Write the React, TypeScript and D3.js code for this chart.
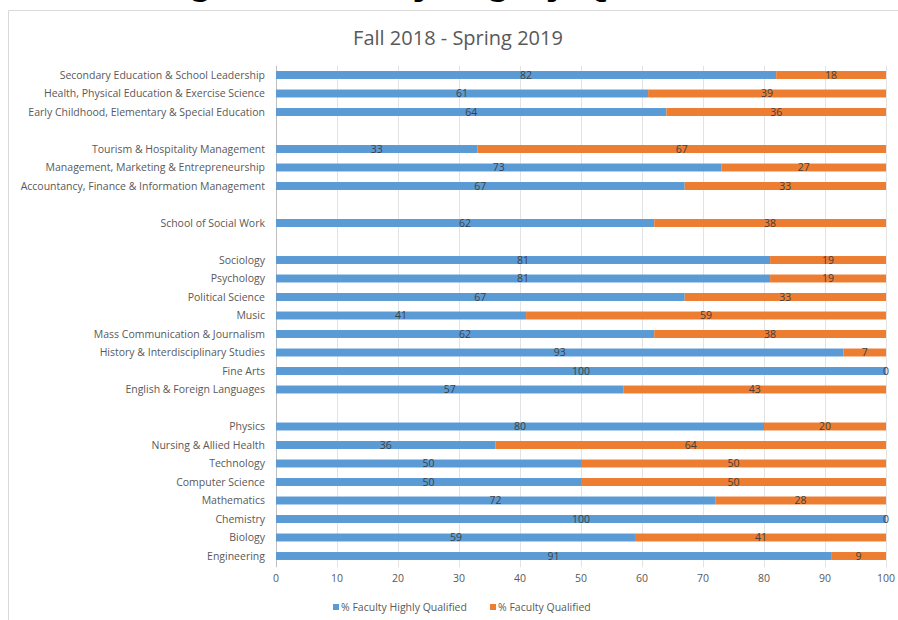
import { useEffect, useRef } from 'react';
import * as d3 from 'd3';

// rows top to bottom, '' = empty spacer row between groups
const categories = [
  'Secondary Education & School Leadership',
  'Health, Physical Education & Exercise Science',
  'Early Childhood, Elementary & Special Education',
  '',
  'Tourism & Hospitality Management',
  'Management, Marketing & Entrepreneurship',
  'Accountancy, Finance & Information Management',
  '',
  'School of Social Work',
  '',
  'Sociology',
  'Psychology',
  'Political Science',
  'Music',
  'Mass Communication & Journalism',
  'History & Interdisciplinary Studies',
  'Fine Arts',
  'English & Foreign Languages',
  '',
  'Physics',
  'Nursing & Allied Health',
  'Technology',
  'Computer Science',
  'Mathematics',
  'Chemistry',
  'Biology',
  'Engineering',
];

const highlyQualified = [82, 61, 64, null, 33, 73, 67, null, 62, null, 81, 81, 67, 41, 62, 93, 100, 57, null, 80, 36, 50, 50, 72, 100, 59, 91];
const qualified = [18, 39, 36, null, 67, 27, 33, null, 38, null, 19, 19, 33, 59, 38, 7, 0, 43, null, 20, 64, 50, 50, 28, 0, 41, 9];

const xTicks = [0, 10, 20, 30, 40, 50, 60, 70, 80, 90, 100];
const seriesNames = ['% Faculty Highly Qualified', '% Faculty Qualified'];
const colors = ['#5B9BD5', '#ED7D31'];

const App = () => {
  const ref = useRef<SVGSVGElement | null>(null);

  useEffect(() => {
    const width = 898;
    const height = 620;
    const left = 276, right = 886, top = 65.75, bottom = 565.25;
    const font = '"Open Sans", sans-serif';

    const svg = d3.select(ref.current);
    svg.selectAll('*').remove();
    svg.attr('width', width).attr('height', height);

    // heading above the chart, cropped by the top edge of the picture
    svg.append('text')
      .attr('x', 19).attr('y', -6)
      .attr('font-family', '"Liberation Sans", sans-serif')
      .attr('font-weight', 'bold').attr('font-size', 40)
      .attr('fill', '#000')
      .text('Percentage of Faculty Highly Qualified');

    // chart frame
    svg.append('path')
      .attr('d', `M8.5,${height} V10.5 H${width}`)
      .attr('fill', 'none').attr('stroke', '#d9d9d9');

    svg.append('text')
      .attr('x', 458).attr('y', 45)
      .attr('text-anchor', 'middle')
      .attr('font-family', font).attr('font-size', 20)
      .attr('fill', '#595959')
      .text('Fall 2018 - Spring 2019');

    const x = d3.scaleLinear().domain([0, 100]).range([left, right]);
    const y = d3.scaleBand<number>()
      .domain(categories.map((_, i) => i))
      .range([top, bottom])
      .paddingInner(0.57).paddingOuter(0.285);

    // gridlines
    svg.append('g').selectAll('line')
      .data(xTicks)
      .join('line')
      .attr('x1', d => Math.round(x(d)) + 0.5).attr('x2', d => Math.round(x(d)) + 0.5)
      .attr('y1', top).attr('y2', bottom + 2)
      .attr('stroke', d => (d === 0 ? '#bfbfbf' : '#e3e3e3'));

    // x tick labels
    svg.append('g').selectAll('text')
      .data(xTicks)
      .join('text')
      .attr('x', d => x(d)).attr('y', 582)
      .attr('text-anchor', 'middle')
      .attr('font-family', font).attr('font-size', 10.5)
      .attr('fill', '#595959')
      .text(d => d);

    // category labels
    svg.append('g').selectAll('text')
      .data(categories)
      .join('text')
      .attr('x', 265)
      .attr('y', (_, i) => (y(i) as number) + y.bandwidth() / 2)
      .attr('dy', '0.35em')
      .attr('text-anchor', 'end')
      .attr('font-family', font).attr('font-size', 10.5)
      .attr('fill', '#595959')
      .text(d => d);

    const rows = categories.map((c, i) => ({ i, c, a: highlyQualified[i], b: qualified[i] }))
      .filter(r => r.a !== null);

    const g = svg.append('g');
    rows.forEach(r => {
      const a = r.a as number;
      const b = r.b as number;
      const yy = y(r.i) as number;
      const segs = [
        { x0: 0, x1: a, v: a, c: colors[0] },
        { x0: a, x1: a + b, v: b, c: colors[1] },
      ];
      segs.forEach(s => {
        g.append('rect')
          .attr('x', x(s.x0)).attr('y', yy)
          .attr('width', x(s.x1) - x(s.x0)).attr('height', y.bandwidth())
          .attr('fill', s.c);
      });
      segs.forEach(s => {
        g.append('text')
          .attr('x', x((s.x0 + s.x1) / 2))
          .attr('y', yy + y.bandwidth() / 2)
          .attr('dy', '0.35em')
          .attr('text-anchor', 'middle')
          .attr('font-family', font).attr('font-size', 10.5)
          .attr('fill', '#404040')
          .text(s.v);
      });
    });

    // legend
    const legendX = [333, 490];
    const legend = svg.append('g');
    seriesNames.forEach((name, i) => {
      legend.append('rect')
        .attr('x', legendX[i]).attr('y', 604)
        .attr('width', 6).attr('height', 6)
        .attr('fill', colors[i]);
      legend.append('text')
        .attr('x', legendX[i] + 8).attr('y', 607)
        .attr('dy', '0.35em')
        .attr('font-family', font).attr('font-size', 10.5)
        .attr('fill', '#595959')
        .text(name);
    });
  }, []);

  return (
    <svg ref={ref} style={{ position: 'absolute', left: 0, top: 0, display: 'block' }}></svg>
  );
};

export default App;
